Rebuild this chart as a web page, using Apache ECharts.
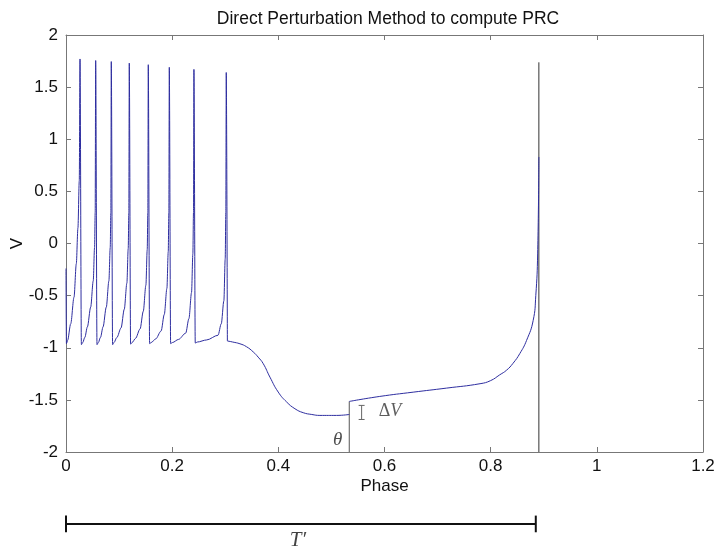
<!DOCTYPE html>
<html>
<head>
<meta charset="utf-8">
<script src="https://cdn.jsdelivr.net/npm/echarts@6/dist/echarts.min.js"></script>
<style>html,body{margin:0;padding:0;background:#fff;}#c{width:715px;height:549px;}</style>
</head>
<body>
<div id="c"></div>
<script>
// ---- data ----
const titleText = 'Direct Perturbation Method to compute PRC';
const xTicks = { min: 0, max: 1.2, interval: 0.2 };
const yTicks = { min: -2, max: 2, interval: 0.5 };

// membrane voltage trace (phase, V)
const phase = [
  0, 0.0008, 0.003, 0.0089, 0.0151, 0.0194, 0.0225, 0.0250, 0.0264,
  0.0290, 0.0315, 0.0355, 0.0403, 0.0465, 0.0513, 0.0538, 0.0550, 0.0559,
  0.0584, 0.0609, 0.0650, 0.0698, 0.0759, 0.0808, 0.0833, 0.0845, 0.0853,
  0.0878, 0.0903, 0.0960, 0.1037, 0.1098, 0.1147, 0.1172, 0.1184, 0.1192,
  0.1217, 0.1245, 0.1310, 0.1395, 0.1456, 0.1505, 0.1530, 0.1542, 0.1550,
  0.1575, 0.1605, 0.1690, 0.1791, 0.1852, 0.1901, 0.1926, 0.1938, 0.1946,
  0.1971, 0.2005, 0.2120, 0.2255, 0.2316, 0.2365, 0.2390, 0.2402, 0.2410,
  0.2435, 0.2475, 0.2650, 0.2864, 0.2925, 0.2974, 0.2999, 0.3011, 0.3019,
  0.3040, 0.3140, 0.3277, 0.3400, 0.3527, 0.3620, 0.3716, 0.3842, 0.3998, 0.4156,
  0.4313, 0.4469, 0.4630, 0.4783, 0.5098, 0.5336,
  0.5336, 0.5910, 0.6540, 0.7170, 0.7800, 0.8000, 0.8170, 0.8300, 0.8420, 0.8550,
  0.8676, 0.8800, 0.8850, 0.8885, 0.8908
];
const volt = [
  -0.24, -0.96, -0.93, -0.77, -0.515, -0.195, 0.15, 0.6, 1.77,
  -0.97, -0.95, -0.90, -0.80, -0.61, -0.36, -0.04, 0.3, 1.755,
  -0.97, -0.95, -0.90, -0.80, -0.61, -0.36, -0.04, 0.3, 1.745,
  -0.97, -0.95, -0.90, -0.81, -0.63, -0.38, -0.05, 0.3, 1.73,
  -0.965, -0.95, -0.91, -0.82, -0.65, -0.40, -0.06, 0.3, 1.715,
  -0.96, -0.95, -0.915, -0.84, -0.68, -0.43, -0.08, 0.3, 1.69,
  -0.96, -0.95, -0.92, -0.86, -0.72, -0.47, -0.10, 0.3, 1.67,
  -0.955, -0.945, -0.925, -0.88, -0.77, -0.55, -0.15, 0.3, 1.64,
  -0.935, -0.945, -0.962, -0.99, -1.04, -1.09, -1.153, -1.282, -1.425, -1.52,
  -1.585, -1.623, -1.64, -1.649, -1.649, -1.64,
  -1.515, -1.467, -1.426, -1.387, -1.345, -1.315, -1.26, -1.215, -1.15, -1.055,
  -0.93, -0.74, -0.5, -0.1, 0.83
];
// phase where the spiking ends and where the perturbation is applied
const burstEnd = 0.3040;
const kickPhase = 0.5336;

// annotations (data coordinates)
const thetaTopV = -1.515;
const tEndPhase = 0.8908, tEndTopV = 1.738;
const dvX = 0.5569, dvTop = -1.553, dvBottom = -1.688, dvCap = 0.0056;
const tBarY = -2.69, tBarEnd = 0.885, tCapTop = -2.61, tCapBottom = -2.77;
const thetaLabelPos = [0.512, -1.889];
const dvLabelPos = [0.589, -1.612];
const tLabelPos = [0.437, -2.745];

// ---- chart ----
const trace = phase.map((p, i) => [p, volt[i]]);
const kickIdx = phase.indexOf(kickPhase);
const burstIdx = phase.indexOf(burstEnd);
const partSpikes = trace.slice(0, burstIdx + 1);
const partDescent = trace.slice(burstIdx, kickIdx + 1);
const partRecovery = trace.slice(kickIdx + 1);

const traceColor = '#2e2ea0';
function tracePart(points, smooth, mono) {
  const s = { type: 'line', data: points, showSymbol: false, silent: true, z: 3,
    smooth: smooth, lineStyle: { color: traceColor, width: 1 } };
  if (mono) s.smoothMonotone = 'x';
  return s;
}
function seg(points, color, width, z) {
  return { type: 'line', data: points, showSymbol: false, clip: false, silent: true,
    lineStyle: { color: color, width: width }, z: z || 2 };
}
function textMark(pos, label) {
  return { type: 'scatter', data: [pos], symbolSize: 0, clip: false, silent: true,
    label: Object.assign({ show: true, position: 'inside' }, label), z: 5 };
}
const axisCommon = {
  type: 'value',
  axisLine: { show: true, onZero: false, lineStyle: { color: '#777', width: 1 } },
  axisTick: { show: true, inside: true, length: 5, lineStyle: { color: '#777' } },
  splitLine: { show: false }
};
const labelFont = { color: '#111', fontSize: 17, fontFamily: 'Liberation Sans, Arial, sans-serif' };

const chart = echarts.init(document.getElementById('c'), null, { renderer: 'canvas' });
chart.setOption({
  animation: false,
  backgroundColor: '#fff',
  title: {
    text: titleText, left: 383, top: 5, textAlign: 'center',
    textStyle: { fontSize: 17.5, fontWeight: 'normal', color: '#111', fontFamily: 'Liberation Sans, Arial, sans-serif' }
  },
  grid: { left: 66, right: 12, top: 35, bottom: 97, containLabel: false, outerBoundsMode: 'none' },
  xAxis: [
    Object.assign({}, axisCommon, xTicks, { position: 'bottom',
      name: 'Phase', nameLocation: 'middle', nameGap: 26, nameMoveOverlap: false, nameTextStyle: labelFont,
      axisLabel: Object.assign({ margin: 6 }, labelFont) }),
    Object.assign({}, axisCommon, xTicks, { position: 'top', axisLabel: { show: false } })
  ],
  yAxis: [
    Object.assign({}, axisCommon, yTicks, { position: 'left',
      name: 'V', nameLocation: 'middle', nameGap: 40, nameRotate: 90, nameMoveOverlap: false, nameTextStyle: labelFont,
      axisLabel: Object.assign({ margin: 8 }, labelFont) }),
    Object.assign({}, axisCommon, yTicks, { position: 'right', axisLabel: { show: false } })
  ],
  series: [
    seg([[kickPhase, yTicks.min], [kickPhase, thetaTopV]], '#555', 1, 2),
    seg([[tEndPhase, yTicks.min], [tEndPhase, tEndTopV]], '#333', 1, 2),
    tracePart(partSpikes, 0.3, true),
    tracePart(partDescent, 0.5, false),
    tracePart(partRecovery, 0.5, false),
    seg([[dvX, dvTop], [dvX, dvBottom]], '#666', 1, 4),
    seg([[dvX - dvCap, dvTop], [dvX + dvCap, dvTop]], '#666', 1, 4),
    seg([[dvX - dvCap, dvBottom], [dvX + dvCap, dvBottom]], '#666', 1, 4),
    seg([[0, tBarY], [tBarEnd, tBarY]], '#111', 2, 4),
    seg([[0, tCapTop], [0, tCapBottom]], '#111', 2, 4),
    seg([[tBarEnd, tCapTop], [tBarEnd, tCapBottom]], '#111', 2, 4),
    textMark(thetaLabelPos, { formatter: 'θ', fontFamily: 'Liberation Serif, serif', fontStyle: 'italic', fontSize: 19, color: '#222' }),
    textMark(dvLabelPos, { position: 'right', distance: 0, formatter: '{a|Δ}{b|V}',
      rich: { a: { fontFamily: 'Liberation Serif, serif', fontSize: 18, color: '#333' },
              b: { fontFamily: 'Liberation Serif, serif', fontStyle: 'italic', fontSize: 18, color: '#333' } } }),
    textMark(tLabelPos, { position: 'bottom', distance: 0, formatter: 'T′', fontFamily: 'Liberation Serif, serif', fontStyle: 'italic', fontSize: 21, color: '#111' })
  ]
});
</script>
</body>
</html>
